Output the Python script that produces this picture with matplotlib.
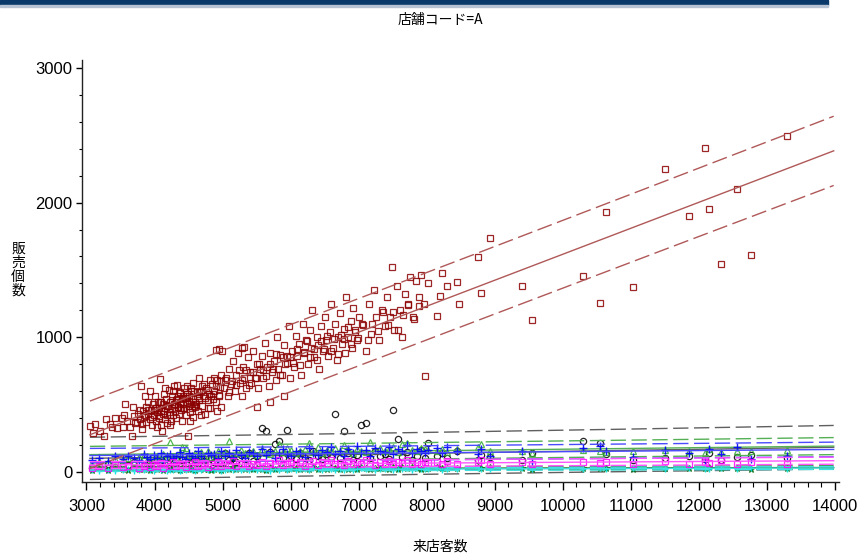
import numpy as np
import matplotlib
matplotlib.use('Agg')
from matplotlib import pyplot as plt
from matplotlib.ticker import MultipleLocator

plt.rcParams['font.family'] = ['Liberation Sans Narrow', 'Liberation Sans', 'DejaVu Sans']
cjk = ['Noto Sans CJK JP', 'DejaVu Sans']

# product A (red squares): (visitors, units sold)
red_pts = [
    (3050,340),(3130,356),(3200,300),(3290,393),(3380,334),(3420,400),(3530,334),(3550,420),
    (3570,505),(3600,380),(3670,267),(3690,482),(3720,360),(3760,430),(3790,390),
    (3800,638),(3820,319),(3830,450),(3850,410),(3870,480),(3880,370),(3900,520),(3910,430),
    (3930,395),(3950,460),(3960,350),(3980,500),(3990,420),(4000,560),(4010,470),(4020,380),
    (4040,440),(4050,520),(4060,400),(4070,470),(4080,690),(4090,350),(4100,450),(4110,304),
    (4120,500),(4130,430),(4140,580),(4150,390),(4160,470),(4170,540),(4180,420),(4190,360),
    (4200,490),
    (4210,610),(4220,440),(4230,520),(4240,380),(4250,470),(4260,560),(4270,420),(4280,500),
    (4290,640),(4300,450),(4310,530),(4320,400),(4330,646),(4340,480),(4350,560),(4360,430),
    (4370,510),(4380,590),(4390,460),(4400,540),(4410,380),(4420,500),(4430,620),(4440,470),
    (4450,550),(4460,420),(4470,510),(4480,580),(4490,267),(4500,490),(4510,560),(4520,440),
    (4530,620),(4540,500),(4550,470),(4560,540),(4570,410),(4580,600),(4590,520),(4600,480),
    (4620,560),(4640,450),(4650,700),(4660,530),(4680,600),(4700,490),(4720,560),(4740,430),
    (4760,620),(4780,530),(4800,580),(4820,470),(4840,650),(4860,540),(4880,600),(4900,520),
    (4920,680),(4940,570),(4960,630),(4980,480),(4990,900),
    (3860,560),(3940,600),(4030,330),(4080,520),(4150,620),(4230,350),(4270,600),(4330,540),
    (4370,470),(4420,560),(4470,640),(4520,380),(4560,660),(4610,500),(4650,590),(4690,420),
    (4730,650),(4780,470),(4830,560),(4870,700),(4920,450),(4970,720),
    (5020,620),(5050,700),(5080,560),(5100,760),(5120,650),(5150,820),(5180,600),(5200,720),
    (5230,880),(5250,660),(5280,560),(5300,780),(5320,700),(5350,620),(5380,850),(5400,740),
    (5420,660),(5450,900),(5480,700),(5500,800),(5520,620),(5550,760),(5580,860),(5600,700),
    (5620,960),(5650,780),(5680,640),(5700,880),(5720,740),(5750,820),(5780,680),(5800,1000),
    (5820,760),(5850,870),(5880,720),(5900,940),(5920,800),(5950,860),(5980,1080),(5990,700),
    (4905,904),(4950,912),(5280,920),(5310,930),(5500,480),(5700,520),(5900,560),
    (6020,900),(6050,780),(6080,1010),(6100,860),(6130,950),(6150,720),(6180,1100),(6200,880),
    (6230,980),(6250,800),(6280,1050),(6300,920),(6320,1200),(6350,850),(6380,1000),(6400,940),
    (6420,760),(6450,1080),(6480,900),(6500,1150),(6520,980),(6550,860),(6580,1040),(6600,1250),
    (6620,920),(6650,1100),(6680,830),(6700,1000),(6720,1180),(6750,950),(6780,1060),(6800,880),
    (6820,1300),(6850,1000),(6880,1120),(6900,920),(6920,1220),(6950,1050),(6980,980),(7000,1150),
    (7050,1100),(7100,900),(7150,1250),(7180,1020),(7220,1350),(7260,1150),(7300,980),(7340,1200),
    (7380,1080),(7420,1300),(7460,1150),(7485,1522),(7520,1050),(7560,1380),(7600,1200),(7640,1000),
    (7680,1320),(7720,1250),(7760,1450),(7800,1150),(7840,1420),(7880,1300),(7920,1460),(7960,1250),
    (7980,713),
    (3100,285),(3250,264),(3350,354),(3450,323),(3520,397),(3640,330),(3700,412),(3740,370),
    (3780,458),(3810,354),(3860,424),(3900,461),(3960,403),(3990,459),
    (4020,475),(4060,413),(4100,521),(4140,448),(4180,486),(4220,424),(4260,532),(4300,500),
    (4340,478),(4380,586),(4420,473),(4460,551),(4500,529),(4540,597),(4580,485),(4620,593),
    (4660,550),(4700,638),(4740,546),(4780,604),(4820,682),(4860,580),(4900,637),(4940,565),
    (4980,673),
    (5040,685),(5090,595),(5140,674),(5190,644),(5240,754),(5290,684),(5340,754),(5390,643),
    (5440,743),(5490,693),(5540,803),(5590,753),(5640,712),(5690,802),(5740,762),(5790,872),
    (5840,722),(5890,851),(5940,811),(5990,851),
    (6040,811),(6090,911),(6140,790),(6190,890),(6240,970),(6290,850),(6340,910),(6390,829),
    (6440,969),(6490,909),(6540,1009),(6590,899),(6640,988),(6690,878),(6740,1018),(6790,988),
    (6840,1078),(6890,947),(6940,1037),(6990,997),
    (7060,1091),(7140,976),(7200,1098),(7280,1044),(7350,1188),(7430,1093),(7500,1187),(7580,1053),
    (7650,1166),(7730,1242),(7810,1138),(7890,1233),
    (8025,1403),(8157,1158),(8200,1307),(8230,1477),(8300,1380),(8450,1410),(8480,1250),(8756,1596),
    (8800,1330),(8930,1737),(9400,1380),(9545,1128),(10290,1455),(10553,1255),(10640,1930),
    (11035,1373),(11502,2249),(11853,1900),(12087,2405),(12145,1952),(12320,1544),(12554,2101),
    (12758,1611),(13300,2494),
]
red_x = [p[0] for p in red_pts]
red_y = [p[1] for p in red_pts]

# days shared by the low-selling products
day_x = [
    3080, 3190, 3310, 3420, 3530, 3610, 3700, 3770, 3840, 3890,
    3940, 3990, 4040, 4090, 4130, 4180, 4230, 4270, 4320, 4370,
    4410, 4460, 4500, 4550, 4590, 4640, 4690, 4730, 4780, 4830,
    4880, 4930, 4970, 5030, 5090, 5150, 5200, 5270, 5330, 5390,
    5450, 5510, 5580, 5640, 5700, 5770, 5830, 5890, 5950, 6010,
    6080, 6140, 6210, 6270, 6330, 6400, 6460, 6530, 6590, 6650,
    6720, 6780, 6850, 6910, 6970, 7040, 7110, 7170, 7240, 7310,
    7380, 7440, 7510, 7580, 7640, 7710, 7780, 7850, 7910, 7980,
    8025, 8157, 8230, 8300, 8450, 8756, 8800, 8930, 9400, 9545, 10290, 10553,
    10640, 11035, 11502, 11853, 12087, 12145, 12320, 12554, 12758, 13300,
]
black_y = [
    30, 45, 55, 35, 60, 50, 75, 55, 85, 45,
    65, 50, 90, 70, 45, 105, 75, 60, 95, 65,
    85, 55, 110, 70, 95, 65, 120, 80, 60, 100,
    75, 115, 65, 140, 85, 105, 70, 125, 95, 135,
    80, 115, 327, 303, 145, 208, 225, 100, 312, 120,
    95, 135, 105, 85, 150, 120, 95, 130, 110, 432,
    105, 299, 140, 90, 125, 349, 362, 100, 150, 115,
    130, 95, 460, 240, 110, 145, 85, 120, 160, 105,
    215, 120, 135, 100, 150, 90, 125, 110, 85, 135, 225, 215,
    130, 89, 105, 120, 95, 140, 85, 110, 125, 100,
]
green_y = [
    60, 80, 70, 95, 85, 100, 75, 110, 124, 90,
    105, 85, 115, 95, 130, 100, 223, 120, 110, 140,
    186, 176, 125, 105, 135, 115, 145, 120, 150, 110,
    130, 155, 125, 145, 230, 120, 140, 160, 135, 139,
    150, 125, 165, 140, 130, 155, 206, 145, 175, 160,
    135, 150, 170, 216, 145, 186, 140, 160, 155, 175,
    150, 198, 165, 140, 170, 155, 145, 223, 160, 175,
    150, 165, 180, 145, 206, 213, 160, 150, 175, 165,
    160, 150, 170, 145, 165, 180, 206, 155, 150, 140, 160, 150,
    145, 155, 160, 150, 140, 165, 145, 155, 150, 160,
]
blue_y = [
    90, 105, 80, 115, 95, 120, 100, 85, 130, 110,
    95, 125, 105, 140, 90, 115, 130, 100, 120, 145,
    110, 95, 135, 120, 105, 150, 115, 90, 140, 125,
    130, 105, 150, 120, 140, 110, 160, 125, 100, 145,
    135, 115, 165, 125, 150, 105, 140, 170, 130, 120,
    155, 135, 110, 175, 140, 125, 160, 145, 185, 130,
    150, 120, 170, 140, 190, 135, 160, 115, 175, 150,
    145, 180, 130, 165, 150, 195, 140, 170, 155, 135,
    160, 175, 140, 185, 150, 130, 170, 120, 155, 75, 177, 187,
    150, 110, 160, 140, 82, 170, 130, 180, 95, 117,
]
magenta_y = [
    30, 45, 25, 50, 35, 40, 55, 30, 45, 60,
    35, 50, 40, 65, 30, 55, 45, 70, 40, 50,
    60, 35, 55, 45, 75, 40, 50, 65, 35, 55,
    45, 70, 40, 60, 50, 80, 45, 55, 65, 40,
    60, 50, 75, 45, 65, 55, 85, 50, 60, 70,
    55, 75, 45, 65, 80, 50, 70, 60, 90, 55,
    65, 50, 80, 60, 70, 55, 85, 65, 50, 75,
    60, 80, 55, 70, 65, 90, 60, 75, 55, 70,
    65, 75, 55, 80, 60, 70, 85, 55, 70, 60, 75, 65,
    70, 55, 80, 60, 75, 65, 85, 55, 70, 60,
]
cyan_y = [
    10, 5, 15, 8, 12, 20, 6, 14, 9, 18,
    12, 7, 16, 10, 22, 8, 14, 11, 19, 6,
    15, 9, 20, 12, 7, 17, 13, 24, 10, 16,
    11, 19, 8, 15, 22, 12, 17, 9, 25, 14,
    18, 10, 23, 14, 8, 20, 15, 27, 12, 19,
    13, 22, 16, 9, 25, 17, 12, 28, 19, 14,
    21, 15, 26, 11, 18, 24, 16, 30, 13, 20,
    17, 25, 12, 22, 19, 28, 15, 24, 18, 21,
    20, 26, 15, 23, 18, 28, 21, 16, 25, 19, 22, 27,
    18, 24, 20, 26, 17, 23, 28, 19, 25, 21,
]
dkgreen_y = [
    15, 25, 10, 30, 20, 12, 28, 18, 22, 35,
    14, 26, 19, 32, 11, 24, 17, 29, 21, 13,
    27, 16, 33, 20, 12, 25, 30, 18, 23, 15,
    22, 31, 14, 26, 19, 35, 17, 28, 21, 24,
    18, 29, 23, 15, 32, 20, 27, 36, 19, 25,
    30, 21, 26, 17, 34, 22, 28, 19, 31, 24,
    23, 33, 18, 27, 21, 38, 25, 20, 30, 26,
    28, 22, 35, 19, 33, 24, 31, 27, 22, 29,
    25, 32, 24, 30, 28, 36, 26, 32, 30, 23, 28, 25,
    27, 22, 30, 26, 24, 31, 25, 29, 23, 28,
]

line_x = [3050, 13980]

# x, y, marker, marker colour, line colour, size, filled
groups = [
    (day_x, black_y, 'o', 'black', '#606060', 4.5, False),
    (day_x, green_y, '^', '#33aa33', '#55b055', 4.5, False),
    (day_x, blue_y, '+', 'blue', '#4a4aff', 6, False),
    (day_x, dkgreen_y, '*', '#0a6a0a', '#2a7a2a', 5, True),
    (day_x, cyan_y, '+', '#00e0e0', '#40e0e0', 5, False),
    (day_x, magenta_y, 's', 'magenta', '#ff55ff', 4, False),
    (red_x, red_y, 's', '#8b0000', '#b05858', 4.5, False),
]


def fit_band(x, y, xs):
    x = np.asarray(x, float)
    y = np.asarray(y, float)
    b, a = np.polyfit(x, y, 1)
    n = len(x)
    s = np.sqrt(np.sum((y - (a + b * x)) ** 2) / (n - 2))
    sxx = np.sum((x - x.mean()) ** 2)
    yhat = a + b * xs
    half = 1.97 * s * np.sqrt(1 + 1 / n + (xs - x.mean()) ** 2 / sxx)
    return yhat, yhat - half, yhat + half


fig = plt.figure(figsize=(8.58, 5.55), dpi=100)
ax = fig.add_axes([82 / 858, 73 / 555, 757 / 858, 422 / 555])

xs = np.linspace(line_x[0], line_x[1], 200)
for gx, gy, mk, mc, lc, ms, filled in groups:
    if mk == '+':
        ax.plot(gx, gy, ls='none', marker=mk, ms=ms, mew=1.0, color=mc, alpha=0.9)
    else:
        ax.plot(gx, gy, ls='none', marker=mk, ms=ms, mew=0.9, mec=mc,
                mfc=mc if filled else 'none', alpha=0.85)
    yhat, lo, hi = fit_band(gx, gy, xs)
    ax.plot(xs, yhat, color=lc, lw=1.0)
    ax.plot(xs, lo, color=lc, lw=1.0, dashes=(11, 4))
    ax.plot(xs, hi, color=lc, lw=1.0, dashes=(11, 4))

ax.set_xlim(2934, 14058)
ax.set_ylim(-77, 3061)
ax.xaxis.set_major_locator(MultipleLocator(1000))
ax.xaxis.set_minor_locator(MultipleLocator(200))
ax.yaxis.set_major_locator(MultipleLocator(1000))
ax.yaxis.set_minor_locator(MultipleLocator(200))
ax.tick_params(axis='x', which='major', direction='out', length=6, width=1, pad=6, labelsize=12)
ax.tick_params(axis='x', which='minor', direction='out', length=3.5, width=0.8)
ax.tick_params(axis='y', which='major', direction='out', length=4, width=1, pad=3, labelsize=12)
ax.tick_params(axis='y', which='minor', direction='out', length=2.5, width=0.8)
ax.spines['top'].set_visible(False)
ax.spines['right'].set_visible(False)
for sp in ('left', 'bottom'):
    ax.spines[sp].set_linewidth(1.0)
    ax.spines[sp].set_color('#222222')

fig.text(440 / 858, 1 - 20 / 555, '店舗コード=A', family=cjk, fontsize=10,
         ha='center', va='center')
fig.text(440 / 858, 1 - 547 / 555, '来店客数', family=cjk, fontsize=10,
         ha='center', va='center')
fig.text(18 / 858, 1 - 270 / 555, '販\n売\n個\n数', family=cjk, fontsize=10,
         ha='center', va='center', linespacing=1.0)

# dark banner across the top
fig.patches.append(plt.Rectangle((0, 1 - 5 / 555), 828 / 858, 5 / 555,
                                 transform=fig.transFigure, color='#0b3a6a'))
fig.patches.append(plt.Rectangle((0, 1 - 6.5 / 555), 828 / 858, 1.5 / 555,
                                 transform=fig.transFigure, color='#b8c4d4'))

fig.savefig('out.png', dpi=100)
